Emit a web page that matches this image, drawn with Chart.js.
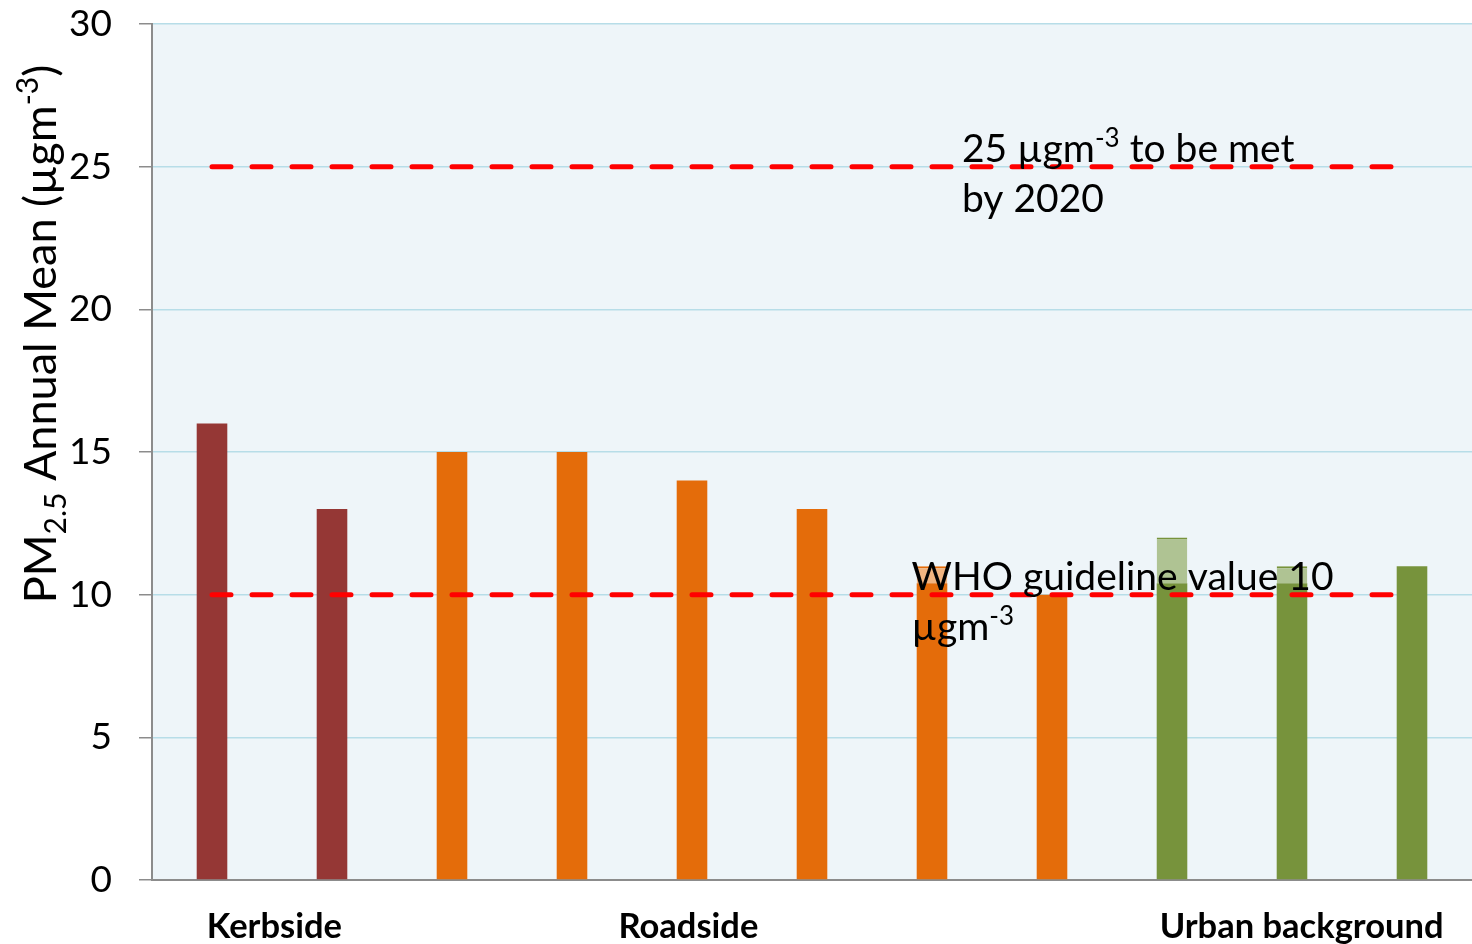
<!DOCTYPE html>
<html lang="en">
<head>
    <meta charset="UTF-8">
    <title>PM2.5 Annual Mean</title>
    <script src="https://cdn.jsdelivr.net/npm/chart.js"></script>
    <style>
        html, body { margin: 0; padding: 0; background: #ffffff; }
        .wrap { width: 1472px; height: 944px; position: relative; }
    </style>
</head>
<body>
    <div class="wrap"><canvas id="chart" width="1472" height="944"></canvas></div>

    <script>
        // --- data ---
        const sites = ['K1', 'K2', 'R1', 'R2', 'R3', 'R4', 'R5', 'R6', 'U1', 'U2', 'U3'];
        const baseValues = [16, 13, 15, 15, 14, 13, 10.4, 10, 10.4, 10.4, 11];
        const upperValues = [0, 0, 0, 0, 0, 0, 0.6, 0, 1.6, 0.6, 0];
        const siteTypes = ['kerb', 'kerb', 'road', 'road', 'road', 'road', 'road', 'road', 'urban', 'urban', 'urban'];
        const whoLimit = sites.map(() => 10);
        const euLimit = sites.map(() => 25);
        const yTicks = [0, 5, 10, 15, 20, 25, 30];

        const groupLabels = [
            { text: 'Kerbside', at: 0.52 },
            { text: 'Roadside', at: 3.97 },
            { text: 'Urban background', at: 9.08 }
        ];

        const dark = { kerb: '#953735', road: '#E46C0A', urban: '#77933C' };
        const light = { kerb: '#D99694', road: '#F1B480', urban: '#AFC393' };

        const FONT = 'Lato, "Noto Sans", sans-serif';

        // plot background
        const bgPlugin = {
            id: 'bg',
            beforeDraw(chart) {
                const { ctx, chartArea: a } = chart;
                ctx.save();
                ctx.fillStyle = '#EEF5F9';
                ctx.fillRect(a.left, a.top, a.right - a.left, a.bottom - a.top);
                ctx.restore();
            }
        };

        // draws a run of text pieces (for sub/superscripts)
        function drawRich(ctx, parts, x, y) {
            let cx = x;
            parts.forEach(p => {
                ctx.font = `${p.size}px ${FONT}`;
                ctx.fillText(p.t, cx, y + (p.dy || 0));
                cx += ctx.measureText(p.t).width;
            });
            return cx - x;
        }
        function richWidth(ctx, parts) {
            let w = 0;
            parts.forEach(p => { ctx.font = `${p.size}px ${FONT}`; w += ctx.measureText(p.t).width; });
            return w;
        }

        const textPlugin = {
            id: 'texts',
            afterDraw(chart) {
                const { ctx, scales: { x, y } } = chart;
                ctx.save();
                ctx.fillStyle = '#000';
                ctx.textBaseline = 'alphabetic';
                ctx.textAlign = 'left';

                // EU target label
                drawRich(ctx, [
                    { t: '25 µgm', size: 39 }, { t: '-3', size: 26, dy: -15 }, { t: ' to be met', size: 39 }
                ], x.getPixelForValue(6.25), y.getPixelForValue(25) - 5);
                drawRich(ctx, [{ t: 'by 2020', size: 39 }], x.getPixelForValue(6.25), y.getPixelForValue(25) + 45);

                // WHO label
                drawRich(ctx, [{ t: 'WHO guideline value 10', size: 39 }], x.getPixelForValue(5.83), y.getPixelForValue(10) - 5);
                drawRich(ctx, [{ t: 'µgm', size: 39 }, { t: '-3', size: 26, dy: -15 }], x.getPixelForValue(5.83), y.getPixelForValue(10) + 45);

                // group labels under the axis
                ctx.font = `bold 34.5px ${FONT}`;
                ctx.textAlign = 'center';
                groupLabels.forEach(g => ctx.fillText(g.text, x.getPixelForValue(g.at), 938));

                // y axis title, rotated
                const parts = [
                    { t: 'PM', size: 45 }, { t: '2.5', size: 30, dy: 10 },
                    { t: ' Annual Mean (µgm', size: 45 }, { t: '-3', size: 30, dy: -18 }, { t: ')', size: 45 }
                ];
                ctx.textAlign = 'left';
                const w = richWidth(ctx, parts);
                ctx.translate(56, 334);
                ctx.rotate(-Math.PI / 2);
                drawRich(ctx, parts, -w / 2, 0);
                ctx.restore();
            }
        };

        const limitLine = (data, stack) => ({
            type: 'line',
            data,
            stack,
            borderColor: '#FF0000',
            borderWidth: 5,
            borderDash: [19, 21],
            borderCapStyle: 'round',
            pointRadius: 0,
            fill: false,
            order: 0
        });

        new Chart(document.getElementById('chart'), {
            type: 'bar',
            data: {
                labels: sites,
                datasets: [
                    {
                        data: baseValues,
                        backgroundColor: siteTypes.map(t => dark[t]),
                        barPercentage: 0.255, categoryPercentage: 1, order: 2
                    },
                    {
                        data: upperValues,
                        backgroundColor: siteTypes.map(t => light[t]),
                        borderColor: siteTypes.map(t => dark[t]),
                        borderWidth: { top: 2, left: 0, right: 0, bottom: 0 },
                        barPercentage: 0.255, categoryPercentage: 1, order: 2
                    },
                    limitLine(whoLimit, 'who'),
                    limitLine(euLimit, 'eu')
                ]
            },
            options: {
                responsive: false,
                animation: false,
                devicePixelRatio: 1,
                layout: { padding: { top: 24, right: 0, left: 0, bottom: 0 } },
                plugins: { legend: { display: false }, tooltip: { enabled: false } },
                scales: {
                    x: {
                        stacked: true,
                        grid: { display: false },
                        border: { color: '#8C8C8C', width: 2 },
                        ticks: { display: false },
                        afterFit(s) { s.height = 64; }
                    },
                    y: {
                        stacked: true,
                        min: 0, max: 30,
                        afterBuildTicks(s) { s.ticks = yTicks.map(v => ({ value: v })); },
                        ticks: { font: { family: FONT, size: 37 }, color: '#000', padding: 27 },
                        grid: {
                            color: c => c.tick && c.tick.value === 0 ? '#8C8C8C' : '#B7DDE8',
                            tickColor: '#8C8C8C',
                            tickLength: 13,
                            lineWidth: 1.5
                        },
                        border: { color: '#8C8C8C', width: 2 },
                        afterFit(s) { s.width = 152; s.paddingTop = 0; s.paddingBottom = 0; }
                    }
                }
            },
            plugins: [bgPlugin, textPlugin]
        });
    </script>
</body>
</html>
